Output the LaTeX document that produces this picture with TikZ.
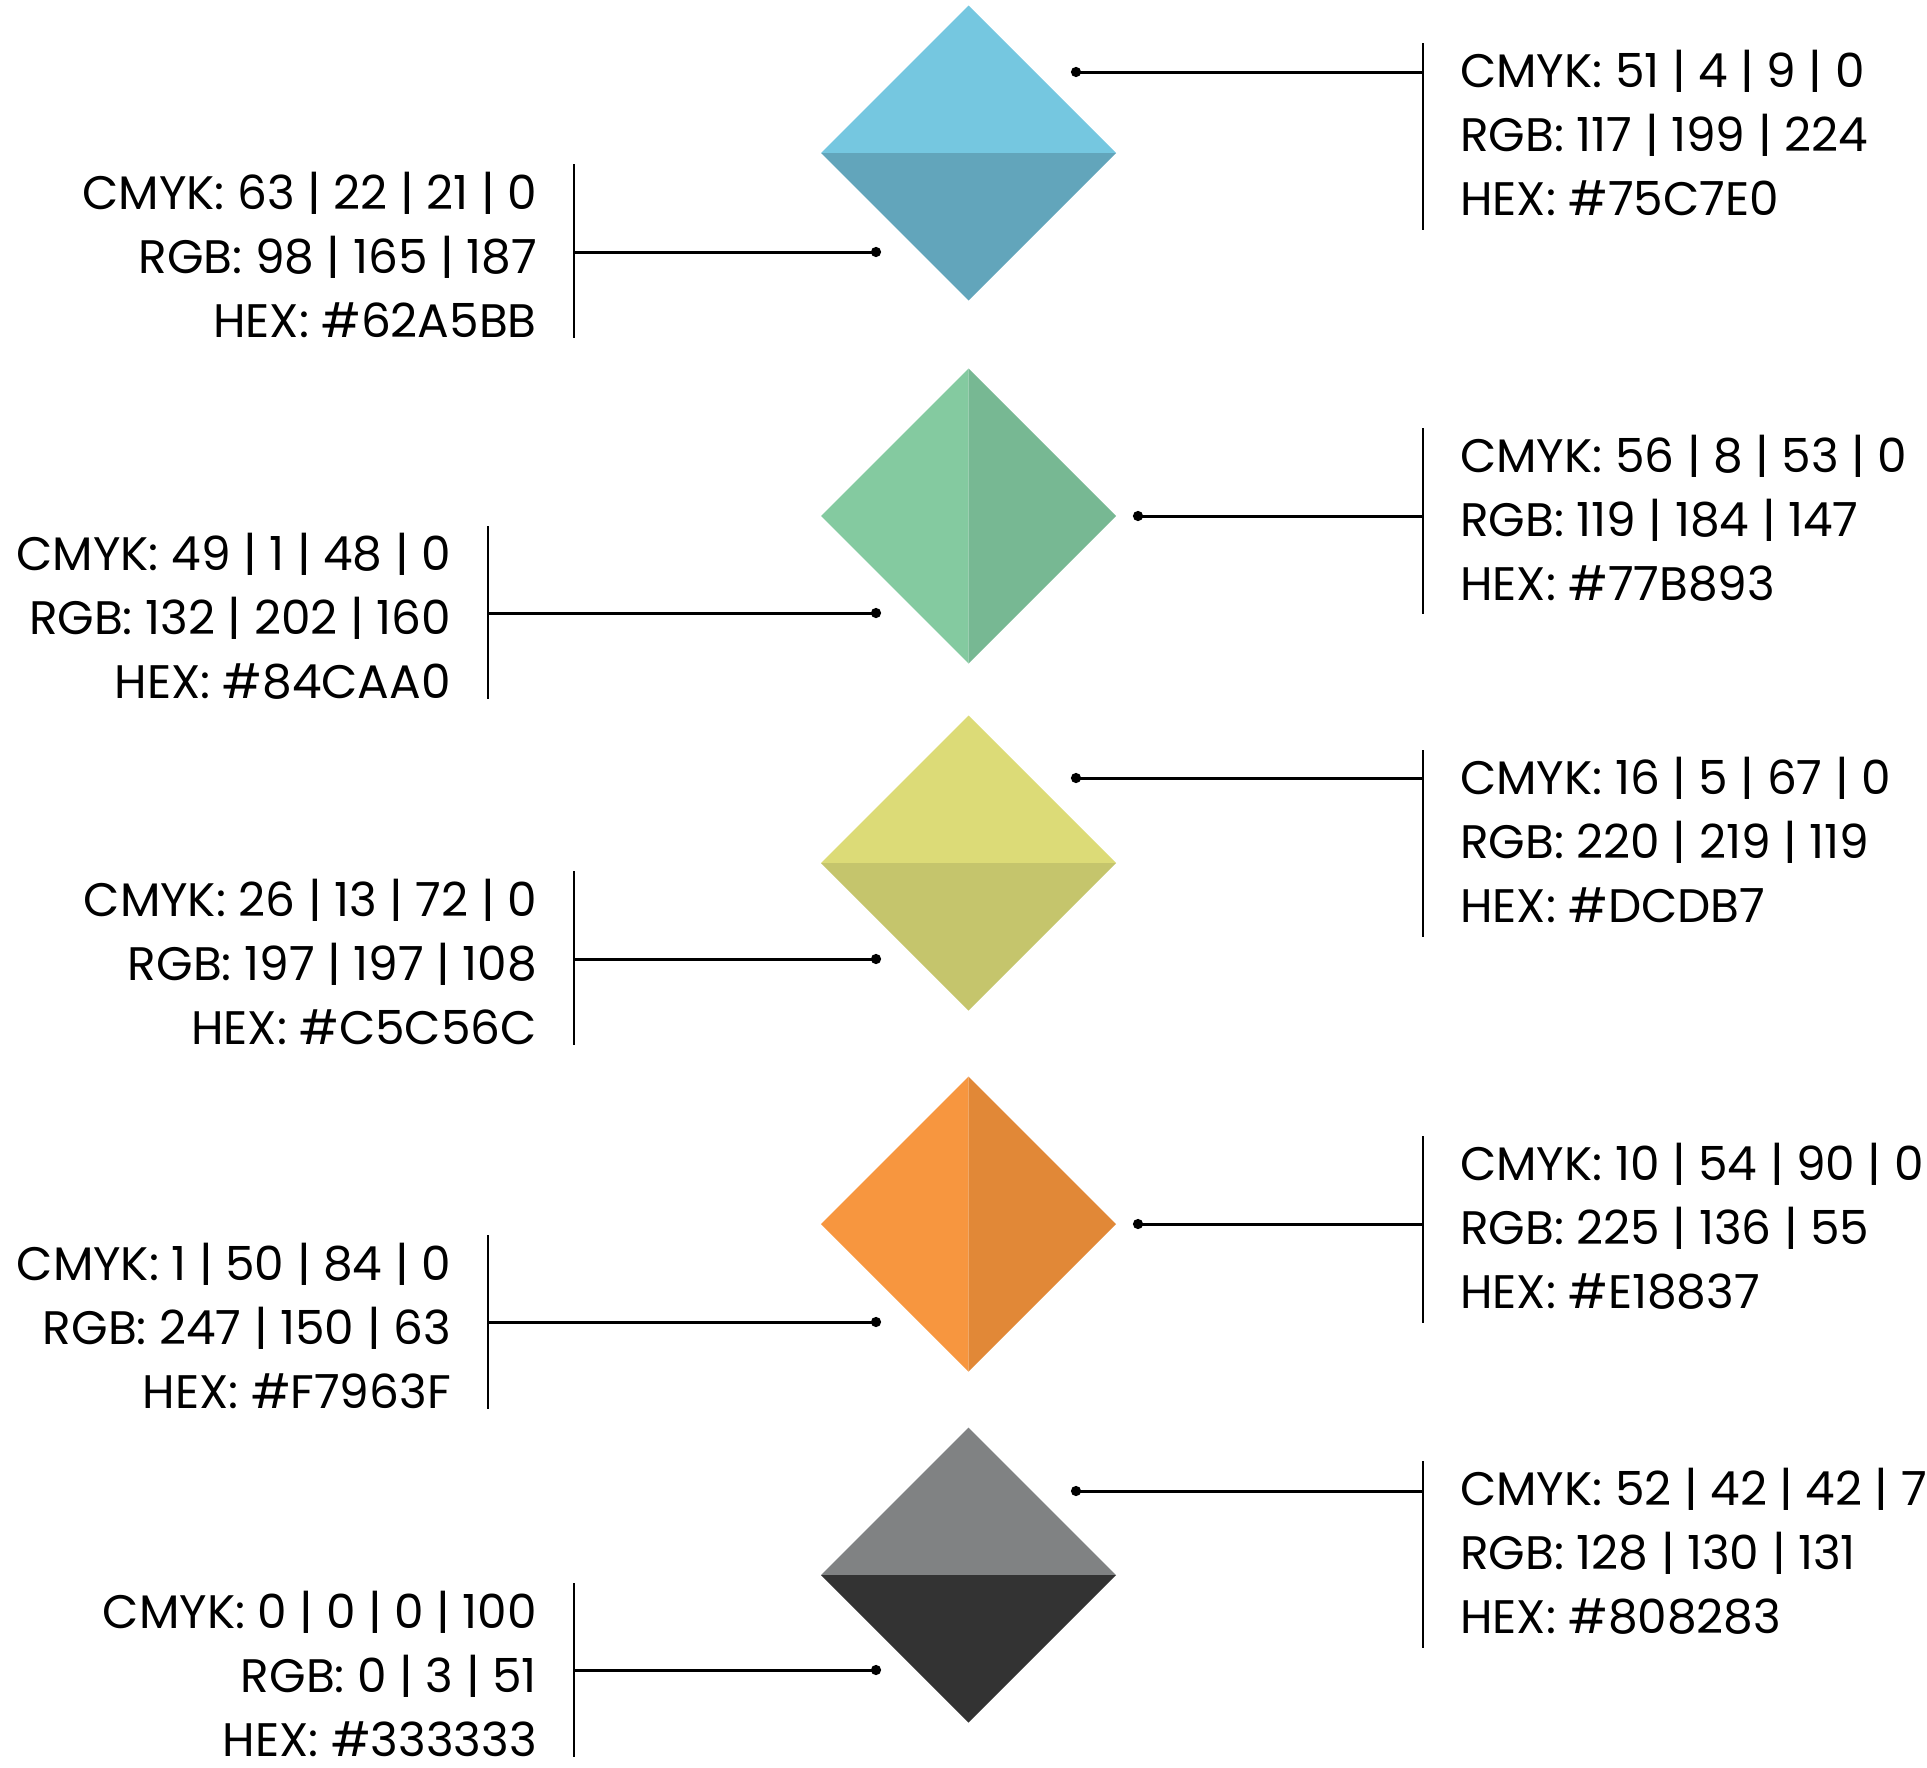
\documentclass[tikz,border=0pt]{standalone}
\usepackage{fontspec}
\setmainfont{Poppins}
\usetikzlibrary{arrows.meta,shapes.geometric}

\definecolor{blue_top}{HTML}{75C7E0}
\definecolor{blue_bottom}{HTML}{62A5BB}
\definecolor{green_left}{HTML}{84CAA0}
\definecolor{green_right}{HTML}{77B893}
\definecolor{yellow_top}{HTML}{DCDB77}
\definecolor{yellow_bottom}{HTML}{C5C56C}
\definecolor{orange_left}{HTML}{F7963F}
\definecolor{orange_right}{HTML}{E18837}
\definecolor{grey_top}{HTML}{808283}
\definecolor{grey_bottom}{HTML}{333333}

\begin{document}
\begin{tikzpicture}
	[
	 %Styles
	 x=1pt, y=-1pt,
	 swatch_node/.style={diamond, aspect=1, minimum width=295pt, minimum height=295pt, inner sep=0pt, outer sep=0pt},
	 value_right/.style={anchor=base west, align=left, inner sep=0pt, font=\fontsize{47}{64}\selectfont},
	 value_left/.style={anchor=base east, align=right, inner sep=0pt, font=\fontsize{47}{64}\selectfont},
	 bar_line/.style={line width=2.5pt},
	 lead_line/.style={{Circle[length=10pt]}-, line width=3pt}
	]
	\useasboundingbox (0,0) rectangle (1927,1767);

	%Swatches
	\node (swatch1) [swatch_node] at (968.5,153) {};
	\fill[blue_top] (swatch1.west) -- (swatch1.north) -- (swatch1.east) -- cycle;
	\fill[blue_bottom] (swatch1.west) -- (swatch1.south) -- (swatch1.east) -- cycle;

	\node (swatch2) [swatch_node] at (968.5,516) {};
	\fill[green_left] (swatch2.north) -- (swatch2.west) -- (swatch2.south) -- cycle;
	\fill[green_right] (swatch2.north) -- (swatch2.east) -- (swatch2.south) -- cycle;

	\node (swatch3) [swatch_node] at (968.5,863) {};
	\fill[yellow_top] (swatch3.west) -- (swatch3.north) -- (swatch3.east) -- cycle;
	\fill[yellow_bottom] (swatch3.west) -- (swatch3.south) -- (swatch3.east) -- cycle;

	\node (swatch4) [swatch_node] at (968.5,1224) {};
	\fill[orange_left] (swatch4.north) -- (swatch4.west) -- (swatch4.south) -- cycle;
	\fill[orange_right] (swatch4.north) -- (swatch4.east) -- (swatch4.south) -- cycle;

	\node (swatch5) [swatch_node] at (968.5,1575) {};
	\fill[grey_top] (swatch5.west) -- (swatch5.north) -- (swatch5.east) -- cycle;
	\fill[grey_bottom] (swatch5.west) -- (swatch5.south) -- (swatch5.east) -- cycle;

	%Values (placed at the baseline of the last line)
	\node (val1r) [value_right] at (1460,215) {CMYK: 51 | 4 | 9 | 0\\RGB: 117 | 199 | 224\\HEX: \#75C7E0};
	\node (val1l) [value_left] at (537,337) {CMYK: 63 | 22 | 21 | 0\\RGB: 98 | 165 | 187\\HEX: \#62A5BB};
	\node (val2r) [value_right] at (1460,600) {CMYK: 56 | 8 | 53 | 0\\RGB: 119 | 184 | 147\\HEX: \#77B893};
	\node (val2l) [value_left] at (451,698) {CMYK: 49 | 1 | 48 | 0\\RGB: 132 | 202 | 160\\HEX: \#84CAA0};
	\node (val3r) [value_right] at (1460,922) {CMYK: 16 | 5 | 67 | 0\\RGB: 220 | 219 | 119\\HEX: \#DCDB7};
	\node (val3l) [value_left] at (537,1044) {CMYK: 26 | 13 | 72 | 0\\RGB: 197 | 197 | 108\\HEX: \#C5C56C};
	\node (val4r) [value_right] at (1460,1308) {CMYK: 10 | 54 | 90 | 0\\RGB: 225 | 136 | 55\\HEX: \#E18837};
	\node (val4l) [value_left] at (451,1408) {CMYK: 1 | 50 | 84 | 0\\RGB: 247 | 150 | 63\\HEX: \#F7963F};
	\node (val5r) [value_right] at (1460,1633) {CMYK: 52 | 42 | 42 | 7\\RGB: 128 | 130 | 131\\HEX: \#808283};
	\node (val5l) [value_left] at (537,1756) {CMYK: 0 | 0 | 0 | 100\\RGB: 0 | 3 | 51\\HEX: \#333333};

	%Bars
	\draw[bar_line] (1423,43) coordinate (bar1r) -- (1423,230);
	\draw[bar_line] (574,164) coordinate (bar1l) -- (574,338);
	\draw[bar_line] (1423,428) coordinate (bar2r) -- (1423,614);
	\draw[bar_line] (488,526) coordinate (bar2l) -- (488,699);
	\draw[bar_line] (1423,750) coordinate (bar3r) -- (1423,937);
	\draw[bar_line] (574,871) coordinate (bar3l) -- (574,1045);
	\draw[bar_line] (1423,1136) coordinate (bar4r) -- (1423,1323);
	\draw[bar_line] (488,1235) coordinate (bar4l) -- (488,1409);
	\draw[bar_line] (1423,1461) coordinate (bar5r) -- (1423,1648);
	\draw[bar_line] (574,1583) coordinate (bar5l) -- (574,1757);

	%Edges
	\coordinate (dot1r) at (1071,72);
	\coordinate (dot1l) at (881,252);
	\coordinate (dot2r) at (1133,516);
	\coordinate (dot2l) at (881,613);
	\coordinate (dot3r) at (1071,778);
	\coordinate (dot3l) at (881,959);
	\coordinate (dot4r) at (1133,1224);
	\coordinate (dot4l) at (881,1322);
	\coordinate (dot5r) at (1071,1491);
	\coordinate (dot5l) at (881,1670);
	\draw[lead_line] (dot1r) -- (dot1r -| bar1r);
	\draw[lead_line] (dot1l) -- (dot1l -| bar1l);
	\draw[lead_line] (dot2r) -- (dot2r -| bar2r);
	\draw[lead_line] (dot2l) -- (dot2l -| bar2l);
	\draw[lead_line] (dot3r) -- (dot3r -| bar3r);
	\draw[lead_line] (dot3l) -- (dot3l -| bar3l);
	\draw[lead_line] (dot4r) -- (dot4r -| bar4r);
	\draw[lead_line] (dot4l) -- (dot4l -| bar4l);
	\draw[lead_line] (dot5r) -- (dot5r -| bar5r);
	\draw[lead_line] (dot5l) -- (dot5l -| bar5l);
\end{tikzpicture}
\end{document}
